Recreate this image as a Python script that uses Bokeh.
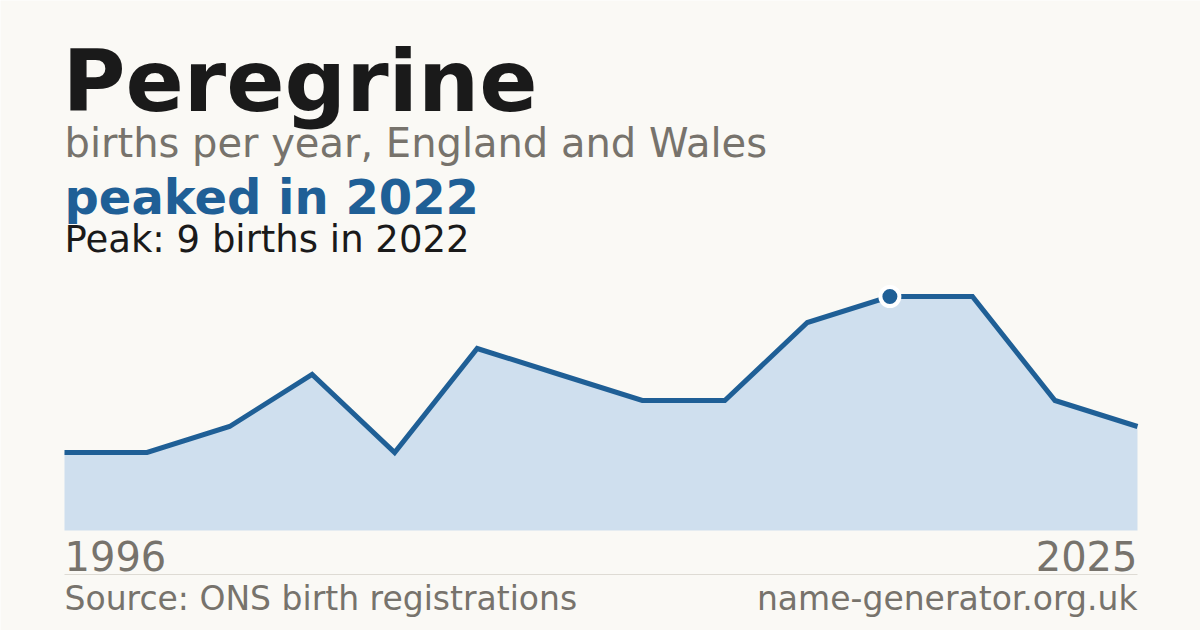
from bokeh.plotting import figure
from bokeh.models import Label, ColumnDataSource, Range1d
from bokeh.embed import file_html
from bokeh.resources import INLINE

# ---- data ----
years = [1996, 1998, 2001, 2004, 2007, 2009, 2011, 2013, 2015, 2019, 2022, 2023, 2024, 2025]
births = [3, 3, 4, 6, 3, 7, 6, 5, 5, 8, 9, 9, 5, 4]
name = "Peregrine"
subtitle = "births per year, England and Wales"
source_text = "Source: ONS birth registrations"
site_text = "name-generator.org.uk"

# ---- styling ----
BG = "#faf9f5"
BLUE = "#1f5f96"
FILL = "#cfdfee"
DARK = "#1a1a1a"
GRAY = "#77736c"
RULE = "#dedbd4"
FONT = "DejaVu Sans"

W, H = 1200, 630
OFF = 0
LEFT_PX, RIGHT_PX = 64, 1137  # page x of first / last point
BASE_PX, UNIT_PX = 530, 26    # page y of zero, pixels per birth
BASE_SHIFT = 0.38             # correction for Bokeh's baseline placement

n = len(births)
step = (RIGHT_PX - LEFT_PX) / (n - 1)
x0 = -(LEFT_PX - OFF) / step
x1 = (n - 1) + (W + OFF - RIGHT_PX) / step
y_top = (BASE_PX - OFF) / UNIT_PX
y_bot = -(H + OFF - BASE_PX) / UNIT_PX


def dx(px):
    return (px - LEFT_PX) / step


def dy(py):
    return (BASE_PX - py) / UNIT_PX


idx = list(range(n))
peak_i = max(range(n), key=lambda i: births[i])
peak_year = years[peak_i]
peak_val = births[peak_i]

p = figure(width=W, height=H, output_backend="svg", toolbar_location=None,
           x_axis_type=None, y_axis_type=None,
           x_range=Range1d(x0, x1), y_range=Range1d(y_bot, y_top),
           min_border=0, min_border_left=0, min_border_right=0,
           min_border_top=0, min_border_bottom=0)
p.background_fill_color = BG
p.border_fill_color = BG
p.outline_line_color = None
p.grid.visible = False

src = ColumnDataSource(dict(x=idx, y=births, zero=[0] * n))
p.varea(x="x", y1="zero", y2="y", source=src, fill_color=FILL)
p.line(x="x", y="y", source=src, line_color=BLUE, line_width=5, line_join="miter")
p.scatter(x=[idx[peak_i]], y=[peak_val], size=19, marker="circle",
          fill_color=BLUE, line_color="white", line_width=4)

# separator rule
p.segment(x0=[0], y0=[dy(574)], x1=[n - 1], y1=[dy(574)], line_color=RULE, line_width=1)


def lab(text, px, py, size, color, style="normal", align="left"):
    p.add_layout(Label(x=dx(px), y=dy(py - BASE_SHIFT * size), text=text, text_font=FONT,
                       text_font_size=f"{size}px", text_color=color,
                       text_font_style=style, text_align=align,
                       text_baseline="alphabetic"))


lab(name, 62, 113, 86, DARK, "bold")
lab(subtitle, 64, 158, 40, GRAY)
lab(f"peaked in {peak_year}", 64, 215, 48, BLUE, "bold")
lab(f"Peak: {peak_val} births in {peak_year}", 64, 253, 37, DARK)
lab(str(years[0]), 64, 571, 40, GRAY)
lab(str(years[-1]), RIGHT_PX, 571, 40, GRAY, align="right")
lab(source_text, 64, 611, 33, GRAY)
lab(site_text, RIGHT_PX, 611, 33, GRAY, align="right")

open("out.html", "w").write(file_html(p, INLINE))
